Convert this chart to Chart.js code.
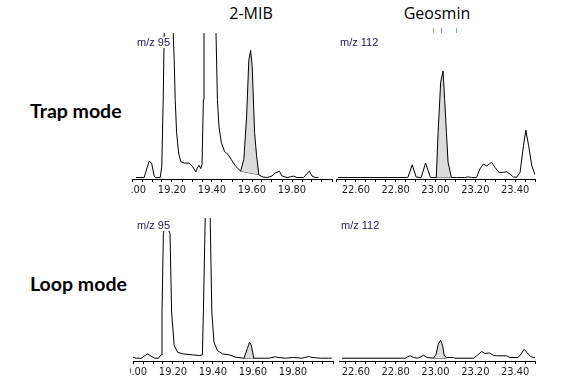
<!DOCTYPE html>
<html>
<head>
<meta charset="utf-8">
<script src="https://cdn.jsdelivr.net/npm/chart.js@4/dist/chart.umd.min.js"></script>
<style>
  html, body { margin: 0; padding: 0; background: #fff; }
  body { width: 576px; height: 390px; position: relative; overflow: hidden; }
  .clip { position: absolute; overflow: hidden; }
  .clip canvas { position: absolute; }
  .title { position: absolute; font-family: "Open Sans", Lato, sans-serif; font-size: 16px; color: #000; line-height: 1; white-space: nowrap; text-align: center; width: 120px; }
  .mode { position: absolute; font-family: Lato, "Open Sans", sans-serif; font-weight: bold; font-size: 19.5px; color: #000; line-height: 1; white-space: nowrap; }
  .mz { position: absolute; font-family: "Liberation Sans", Arial, sans-serif; font-size: 11px; color: #1c1c50; background: #fff; line-height: 1; white-space: nowrap; padding: 0 1px; }
  .mark { position: absolute; width: 1px; height: 5px; }
</style>
</head>
<body>
<div class="title" style="left:191px; top:5px;">2-MIB</div>
<div class="title" style="left:377px; top:5px;">Geosmin</div>
<div class="mode" style="left:30px; top:101px;">Trap mode</div>
<div class="mode" style="left:30px; top:274px;">Loop mode</div>
<div class="mark" style="left:433px; top:28px; background:#7cc07c;"></div>
<div class="mark" style="left:441px; top:28px; background:#8080ff;"></div>
<div class="mark" style="left:456px; top:28px; background:#7cc07c;"></div>

<div class="clip" style="left:130px; top:0px; width:204px; height:200px;"><canvas id="c1" width="261" height="201" style="left:-29px; top:0px; width:261px; height:201px;"></canvas></div>
<div class="clip" style="left:334px; top:0px; width:210px; height:200px;"><canvas id="c2" width="259" height="201" style="left:-28px; top:0px; width:259px; height:201px;"></canvas></div>
<div class="clip" style="left:130px; top:200px; width:204px; height:190px;"><canvas id="c3" width="261" height="198" style="left:-28px; top:-15px; width:261px; height:198px;"></canvas></div>
<div class="clip" style="left:339px; top:200px; width:205px; height:190px;"><canvas id="c4" width="259" height="198" style="left:-33px; top:-15px; width:259px; height:198px;"></canvas></div>

<div class="mz" style="left:136px; top:37px;">m/z 95</div>
<div class="mz" style="left:339px; top:37px;">m/z 112</div>
<div class="mz" style="left:136px; top:220px;">m/z 95</div>
<div class="mz" style="left:340px; top:220px;">m/z 112</div>

<script>
// ---------- DATA ----------
// Retention time axis labels
const mibTickLabels = ['19.00', '19.20', '19.40', '19.60', '19.80'];
const geoTickLabels = ['22.60', '22.80', '23.00', '23.20', '23.40'];
const mibRange = [19.0, 20.0];
const geoRange = [22.5, 23.5];

// Trap mode, 2-MIB (m/z 95) - relative abundance (100 = top of frame)
const mibTrapTime = [19.020, 19.061, 19.075, 19.086, 19.098, 19.111, 19.117, 19.141, 19.149, 19.156, 19.161, 19.185, 19.206, 19.211, 19.216, 19.223, 19.233, 19.244, 19.261, 19.285, 19.302, 19.319, 19.327, 19.335, 19.344, 19.350, 19.357, 19.360, 19.385, 19.420, 19.427, 19.435, 19.447, 19.463, 19.480, 19.497, 19.518, 19.543, 19.559, 19.573, 19.584, 19.593, 19.601, 19.613, 19.623, 19.634, 19.651, 19.676, 19.700, 19.717, 19.737, 19.750, 19.775, 19.792, 19.808, 19.825, 19.858, 19.875, 19.887, 19.900, 19.916, 19.933];
const mibTrapSignal = [0, 0, 6.7, 11.3, 10, 1, 0, 0, 7.8, 53.8, 100, 170, 100, 81, 54, 31, 17, 11, 10, 10, 7.8, 3.9, 6.7, 8.5, 6.2, 9, 54, 100, 200, 100, 54, 35, 24, 18, 16, 12.4, 7.8, 4.4, 12.4, 42, 81, 88, 77, 31, 15, 2, 0.5, 0, 1.1, 3.2, 4.4, 1.1, 0, 0.5, 1, 0, 0, 2.8, 4.4, 1.1, 0, 0];
const mibTrapPeakTime = [19.543, 19.634];
const mibTrapPeakBase = [4.4, 2.0];

// Trap mode, Geosmin (m/z 112)
const geoTrapTime = [22.510, 22.853, 22.861, 22.883, 22.903, 22.928, 22.950, 22.975, 23.004, 23.013, 23.026, 23.038, 23.046, 23.055, 23.063, 23.080, 23.105, 23.147, 23.164, 23.181, 23.206, 23.223, 23.240, 23.257, 23.282, 23.299, 23.319, 23.341, 23.358, 23.374, 23.392, 23.409, 23.425, 23.442, 23.454, 23.468, 23.484, 23.501, 23.510];
const geoTrapSignal = [0, 0, 0, 8.8, 0.3, 0, 10, 0, 0, 31, 66, 73.7, 54, 31, 10.7, 0, 0, 0, 0.5, 0, 0, 5.9, 9.3, 8.1, 10.5, 7, 3.6, 3.6, 4, 2.4, 0.3, 0.3, 3.6, 22, 32.8, 22, 8.1, 1.7, 0];
const geoTrapPeakTime = [23.004, 23.080];
const geoTrapPeakBase = [0, 0];

// Loop mode, 2-MIB (m/z 95)
const mibLoopTime = [19.000, 19.016, 19.041, 19.057, 19.074, 19.090, 19.107, 19.128, 19.140, 19.145, 19.152, 19.163, 19.185, 19.193, 19.206, 19.223, 19.248, 19.298, 19.331, 19.347, 19.352, 19.361, 19.373, 19.386, 19.394, 19.405, 19.422, 19.447, 19.480, 19.514, 19.555, 19.571, 19.583, 19.591, 19.604, 19.629, 19.679, 19.712, 19.729, 19.762, 19.803, 19.845, 19.878, 19.895, 19.936, 19.978, 19.994];
const mibLoopSignal = [0.7, 0, 0, 1.5, 3.1, 1.5, 0, 0, 2.4, 33, 89, 96, 89, 33, 9, 4.3, 3.1, 2.4, 1.9, 2.4, 33, 100, 130, 100, 33, 11.4, 5.5, 3.1, 2.4, 0.7, 0, 6.7, 11.4, 9.5, 0, 0, 0, 1, 0.5, 0, 0.5, 0, 1.2, 0.5, 0, 0, 0];
const mibLoopPeakTime = [19.555, 19.604];
const mibLoopPeakBase = [0, 0];

// Loop mode, Geosmin (m/z 112)
const geoLoopTime = [22.530, 22.848, 22.860, 22.873, 22.890, 22.910, 22.927, 22.940, 22.957, 22.990, 23.003, 23.014, 23.026, 23.036, 23.044, 23.056, 23.090, 23.097, 23.190, 23.207, 23.232, 23.249, 23.270, 23.290, 23.307, 23.357, 23.374, 23.415, 23.432, 23.445, 23.460, 23.478, 23.493, 23.505];
const geoLoopSignal = [0, 0, 1, 1.7, 0.5, 0, 1, 2.1, 0.5, 0, 2.9, 10, 12.9, 8.8, 1.7, 0.5, 0.5, 0, 0, 1.7, 4.8, 3.3, 3.8, 2.1, 1.7, 1.7, 0.5, 0.5, 3.3, 6.4, 4, 1.2, 0.5, 0.5];
const geoLoopPeakTime = [22.990, 23.056];
const geoLoopPeakBase = [0, 0];

// ---------- CHARTS ----------
const tickFont = { family: "'Liberation Sans Narrow', 'Arial Narrow', 'DejaVu Sans Condensed', 'Liberation Sans', sans-serif", size: 11 };

function pts(t, s) { return t.map((v, i) => ({ x: v, y: s[i] })); }

function makeChart(id, time, signal, peakTime, peakBase, range, labels, yMin, pad) {
  const trace = pts(time, signal);
  const peak = trace.filter(p => p.x >= peakTime[0] - 1e-9 && p.x <= peakTime[1] + 1e-9);
  const base = pts(peakTime, peakBase);
  return new Chart(document.getElementById(id), {
    type: 'line',
    data: {
      datasets: [
        { data: trace, borderColor: '#000', borderWidth: 1, pointRadius: 0, tension: 0, fill: false, order: 0 },
        { data: peak, borderColor: 'rgba(0,0,0,0)', borderWidth: 0, pointRadius: 0, tension: 0,
          fill: { target: 2 }, backgroundColor: '#dcdcdc', order: 1 },
        { data: base, borderColor: '#333', borderWidth: 1, pointRadius: 0, tension: 0, fill: false, order: 2 }
      ]
    },
    options: {
      responsive: false,
      animation: false,
      events: [],
      layout: { padding: pad },
      plugins: { legend: { display: false }, tooltip: { enabled: false }, title: { display: false } },
      scales: {
        x: {
          type: 'linear', min: range[0], max: range[1],
          afterBuildTicks: (scale) => {
            const ticks = [];
            for (let k = 0; range[0] + k * 0.05 <= range[1] + 1e-9; k++) ticks.push({ value: range[0] + k * 0.05 });
            scale.ticks = ticks;
          },
          afterFit: (scale) => { scale.height = 22; },
          border: { display: true, color: '#000', width: 1 },
          grid: { display: true, drawOnChartArea: false, drawTicks: true, tickLength: 3, color: '#000', lineWidth: 1 },
          ticks: {
            autoSkip: false, maxRotation: 0, minRotation: 0, padding: 2,
            color: '#1a1a1a', font: tickFont,
            callback: (v) => { const s = (Math.round(v * 100) / 100).toFixed(2); return labels.includes(s) ? s : ''; }
          }
        },
        y: { display: false, min: yMin, max: 100 }
      }
    }
  });
}

makeChart('c1', mibTrapTime, mibTrapSignal, mibTrapPeakTime, mibTrapPeakBase, mibRange, mibTickLabels, -1, { left: 31, right: 30, top: 33, bottom: 0 });
makeChart('c2', geoTrapTime, geoTrapSignal, geoTrapPeakTime, geoTrapPeakBase, geoRange, geoTickLabels, -1, { left: 30, right: 30, top: 33, bottom: 0 });
makeChart('c3', mibLoopTime, mibLoopSignal, mibLoopPeakTime, mibLoopPeakBase, mibRange, mibTickLabels, -2, { left: 31, right: 30, top: 33, bottom: 0 });
makeChart('c4', geoLoopTime, geoLoopSignal, geoLoopPeakTime, geoLoopPeakBase, geoRange, geoTickLabels, -2, { left: 30, right: 30, top: 33, bottom: 0 });
</script>
</body>
</html>
